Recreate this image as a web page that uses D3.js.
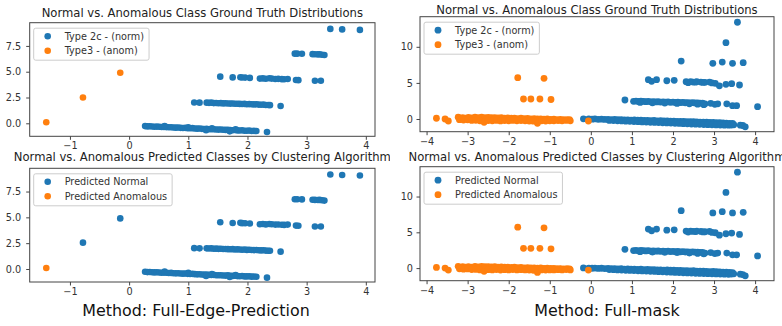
<!DOCTYPE html>
<html>
<head>
<meta charset="utf-8">
<script src="https://cdn.jsdelivr.net/npm/d3@7"></script>
<style>
body { margin: 0; background: #fff; }
text { font-family: "DejaVu Sans", sans-serif; }
</style>
</head>
<body>
<svg id="chart" width="782" height="326"></svg>
<script>
// ---- Method: Full-Edge-Prediction ----
const edgeNormal = [
  // lowest band
  [0.27,-0.27],[0.31,-0.30],[0.35,-0.29],[0.39,-0.31],[0.43,-0.33],[0.47,-0.32],[0.51,-0.34],[0.55,-0.36],
  [0.59,-0.35],[0.63,-0.37],[0.67,-0.39],[0.71,-0.38],[0.75,-0.41],[0.79,-0.42],[0.83,-0.41],[0.87,-0.44],
  [0.91,-0.45],[0.95,-0.44],[0.99,-0.47],[1.03,-0.48],[1.07,-0.47],[1.11,-0.50],[1.15,-0.52],[1.19,-0.51],
  [1.23,-0.54],[1.27,-0.55],[1.31,-0.53],[1.35,-0.57],[1.39,-0.58],[1.43,-0.57],[1.47,-0.60],[1.51,-0.61],
  [1.55,-0.60],[1.59,-0.63],[1.63,-0.64],[1.67,-0.62],[1.71,-0.66],[1.75,-0.67],[1.79,-0.65],[1.83,-0.69],
  [1.87,-0.70],[1.91,-0.68],[1.95,-0.72],[1.99,-0.72],[2.03,-0.70],[2.07,-0.74],[2.11,-0.73],[2.15,-0.75],
  [0.60,-0.26],[1.00,-0.38],[1.40,-0.48],[1.80,-0.58],[1.30,-0.68],[1.70,-0.78],[2.33,-0.84],
  // band near 2
  [1.10,2.02],[1.19,2.00],[1.31,2.00],[1.35,1.98],[1.39,2.00],[1.43,1.96],[1.47,1.97],[1.51,1.95],
  [1.55,1.96],[1.59,1.93],[1.63,1.94],[1.67,1.92],[1.71,1.91],[1.75,1.92],[1.79,1.89],[1.83,1.90],
  [1.87,1.88],[1.91,1.87],[1.95,1.88],[1.99,1.85],[2.03,1.86],[2.07,1.84],[2.11,1.83],[2.15,1.84],
  [2.19,1.81],[2.23,1.80],[2.27,1.81],[2.31,1.78],[2.35,1.77],[2.38,1.76],[2.56,1.68],
  // band near 4.4
  [1.54,4.52],[1.75,4.45],[1.88,4.47],[1.91,4.44],[1.96,4.43],[2.04,4.40],[2.21,4.33],[2.26,4.35],
  [2.31,4.32],[2.37,4.36],[2.41,4.33],[2.47,4.30],[2.52,4.31],[2.58,4.28],[2.62,4.27],[2.68,4.30],
  [2.82,4.20],[2.86,4.18],[3.14,4.12],[3.24,4.12],
  // band near 6.7
  [2.80,6.75],[2.84,6.75],[2.92,6.74],[3.10,6.70],[3.14,6.69],[3.19,6.68],[3.22,6.69],[3.26,6.65],[3.30,6.62],
  // top
  [3.40,9.15],[3.60,9.10],[3.90,9.05]
];
const edgeAnomTruth = [[-1.40,0.10],[-0.78,2.50],[-0.15,4.90]];
const edgeAnomPred = [[-1.40,0.10]];
const edgeNormalPred = edgeNormal.concat([[-0.78,2.55],[-0.15,4.90]]);

// ---- Method: Full-mask ----
const maskNormal = [
  // lowest band, upper row
  [-0.18,0.02],[-0.05,0.00],[0.03,-0.02],[0.10,0.01],[0.18,-0.04],[0.26,-0.02],[0.34,-0.06],[0.42,-0.05],
  [0.50,-0.08],[0.58,-0.07],[0.66,-0.10],[0.74,-0.09],[0.82,-0.13],[0.90,-0.12],[0.98,-0.15],[1.06,-0.14],
  [1.14,-0.17],[1.22,-0.16],[1.30,-0.20],[1.38,-0.19],[1.46,-0.22],[1.54,-0.21],[1.62,-0.25],[1.70,-0.24],
  [1.78,-0.27],[1.86,-0.26],[1.94,-0.30],[2.02,-0.29],[2.10,-0.33],[2.18,-0.32],[2.26,-0.35],[2.34,-0.36],
  [2.42,-0.38],[2.50,-0.37],[2.58,-0.41],[2.66,-0.42],[2.74,-0.44],[2.82,-0.45],[2.90,-0.48],[2.98,-0.47],
  [3.06,-0.50],[3.14,-0.52],[3.22,-0.55],[3.30,-0.56],[3.38,-0.60],[3.45,-0.62],
  // lowest band, lower row
  [0.45,-0.20],[0.55,-0.22],[0.65,-0.25],[0.75,-0.27],[0.85,-0.30],[0.95,-0.32],[1.05,-0.35],[1.15,-0.37],
  [1.25,-0.40],[1.35,-0.42],[1.45,-0.45],[1.55,-0.47],[1.65,-0.50],[1.75,-0.52],[1.85,-0.55],[1.95,-0.57],
  [2.05,-0.60],[2.15,-0.62],[2.25,-0.65],[2.35,-0.67],[2.45,-0.70],[2.55,-0.72],[2.65,-0.74],[2.75,-0.76],
  [2.85,-0.78],[2.95,-0.80],[3.05,-0.82],[3.15,-0.83],[3.25,-0.85],[3.35,-0.86],[3.42,-0.84],[3.48,-0.80],
  [3.64,-0.85],[3.70,-0.90],[3.76,-1.08],
  // band near 2.3
  [0.83,2.63],[1.04,2.45],[1.10,2.48],[1.16,2.42],[1.22,2.46],[1.28,2.44],[1.34,2.40],[1.40,2.43],
  [1.46,2.38],[1.52,2.41],[1.58,2.37],[1.64,2.39],[1.70,2.35],[1.76,2.38],[1.82,2.34],[1.88,2.36],
  [1.94,2.31],[2.00,2.34],[2.06,2.30],[2.12,2.32],[2.18,2.27],[2.24,2.30],[2.30,2.25],[2.36,2.28],
  [2.42,2.24],[2.48,2.26],[2.54,2.22],[2.60,2.24],[2.66,2.20],[2.72,2.18],[2.78,2.10],
  [1.20,2.30],[1.50,2.25],[1.80,2.20],[2.10,2.15],[2.40,2.10],[2.60,2.05],[2.75,1.98],
  [2.92,2.17],[3.02,2.03],[3.09,2.10],[3.31,2.10],[3.45,1.85],[3.55,1.85],[4.06,1.70],
  // band near 5.2
  [1.40,5.45],[1.48,5.22],[1.60,5.45],[1.85,5.30],[2.03,5.35],[2.32,5.17],[2.37,5.03],[2.43,5.17],
  [2.49,5.12],[2.55,5.10],[2.58,5.17],[2.68,5.12],[2.73,5.06],[2.78,5.08],[2.89,5.12],[2.95,4.99],
  [3.03,4.94],[3.13,4.60],[3.29,4.80],[3.43,4.89],[3.62,4.71],
  // upper outliers
  [2.20,8.03],[2.97,7.71],[3.20,7.89],[3.45,7.71],[3.71,7.80],[3.29,10.57],[3.57,13.40]
];
const maskAnom = [
  [-3.76,0.10],[-3.55,0.00],[-3.47,-0.28],
  // band, upper row
  [-3.23,0.25],[-3.18,0.10],[-3.12,0.20],[-3.05,0.12],[-2.98,0.22],[-2.90,0.15],[-2.82,0.24],[-2.74,0.18],
  [-2.66,0.25],[-2.58,0.20],[-2.50,0.22],[-2.42,0.17],[-2.34,0.20],[-2.26,0.14],[-2.18,0.18],[-2.10,0.12],
  [-2.02,0.15],[-1.94,0.10],[-1.86,0.12],[-1.78,0.06],[-1.70,0.10],[-1.62,0.04],[-1.54,0.07],[-1.46,0.02],
  [-1.38,0.04],[-1.30,0.00],[-1.22,0.02],[-1.14,-0.03],[-1.06,0.00],[-0.98,-0.05],[-0.90,-0.03],[-0.82,-0.08],
  [-0.74,-0.06],[-0.66,-0.10],[-0.58,-0.08],[-0.52,-0.10],
  // band, middle
  [-3.15,0.00],[-2.95,0.02],[-2.75,0.00],[-2.55,-0.05],[-2.35,0.00],[-2.15,-0.03],[-1.95,-0.05],
  [-1.75,-0.08],[-1.55,-0.10],[-1.35,-0.12],[-1.15,-0.12],[-0.95,-0.15],[-0.75,-0.15],
  // band, lower row
  [-3.20,-0.10],[-3.10,-0.15],[-3.00,-0.12],[-2.90,-0.20],[-2.80,-0.18],[-2.70,-0.25],[-2.60,-0.45],
  [-2.50,-0.22],[-2.40,-0.25],[-2.30,-0.20],[-2.20,-0.27],[-2.10,-0.22],[-2.00,-0.25],[-1.90,-0.20],
  [-1.80,-0.26],[-1.70,-0.22],[-1.60,-0.25],[-1.50,-0.28],[-1.40,-0.30],[-1.30,-0.60],[-1.20,-0.25],
  [-1.10,-0.28],[-1.00,-0.25],[-0.90,-0.25],[-0.80,-0.22],[-0.70,-0.25],[-0.60,-0.20],[-0.50,-0.25],
  // raised points
  [-1.78,5.72],[-1.14,5.63],[-1.64,2.77],[-1.46,2.77],[-1.24,2.77],[-0.97,2.70],
  [-0.06,-0.28]
];

const titleTruth = 'Normal vs. Anomalous Class Ground Truth Distributions';
const titlePred = 'Normal vs. Anomalous Predicted Classes by Clustering Algorithm';
const legendTruth = ['Type 2c - (norm)', 'Type3 - (anom)'];
const legendPred = ['Predicted Normal', 'Predicted Anomalous'];
const edgeXTicks = [-1, 0, 1, 2, 3, 4];
const edgeYTicks = [0, 2.5, 5, 7.5];
const maskXTicks = [-4, -3, -2, -1, 0, 1, 2, 3, 4];
const maskYTicks = [0, 5, 10];

const blue = '#1f77b4', orange = '#ff7f0e';
const svg = d3.select('#chart');

svg.append('defs').call(d => {
    d.append('clipPath').attr('id', 'clipL').append('rect').attr('x', 0).attr('y', 0).attr('width', 390).attr('height', 326);
    d.append('clipPath').attr('id', 'clipR').append('rect').attr('x', 390).attr('y', 0).attr('width', 392).attr('height', 326);
});

const fmtTick = f => (v => f(v).replace('-', '\u2212'));

function scatter(g, cfg) {
    const x = d3.scaleLinear().domain(cfg.xDomain).range([cfg.left, cfg.right]);
    const y = d3.scaleLinear().domain(cfg.yDomain).range([cfg.bottom, cfg.top]);

    g.append('text')
        .attr('x', (cfg.left + cfg.right) / 2)
        .attr('y', cfg.titleY)
        .attr('text-anchor', 'middle')
        .attr('font-size', 11.6)
        .attr('fill', '#222')
        .text(cfg.title);

    // the points, normal first then anomalous on top
    g.append('g').selectAll('circle').data(cfg.normal).join('circle')
        .attr('cx', d => x(d[0])).attr('cy', d => y(d[1])).attr('r', cfg.r).attr('fill', blue);
    g.append('g').selectAll('circle').data(cfg.anom).join('circle')
        .attr('cx', d => x(d[0])).attr('cy', d => y(d[1])).attr('r', cfg.r).attr('fill', orange);

    // frame
    g.append('rect')
        .attr('x', cfg.left).attr('y', cfg.top)
        .attr('width', cfg.right - cfg.left).attr('height', cfg.bottom - cfg.top)
        .attr('fill', 'none').attr('stroke', '#444').attr('stroke-width', 1);

    const xAxis = g.append('g')
        .attr('transform', 'translate(0,' + cfg.bottom + ')')
        .call(d3.axisBottom(x).tickValues(cfg.xTicks).tickSize(3.5).tickPadding(2.5).tickFormat(fmtTick(d3.format('d'))));
    const yAxis = g.append('g')
        .attr('transform', 'translate(' + cfg.left + ',0)')
        .call(d3.axisLeft(y).tickValues(cfg.yTicks).tickSize(3.5).tickPadding(cfg.yPad).tickFormat(fmtTick(d3.format(cfg.yFmt))));
    [xAxis, yAxis].forEach(a => {
        a.select('.domain').remove();
        a.selectAll('line').attr('stroke', '#444');
        a.selectAll('text').attr('font-family', '"DejaVu Sans", sans-serif').attr('font-size', 9.7).attr('fill', '#333');
    });

    // legend
    const lg = g.append('g');
    const bx = cfg.left + 4, by = cfg.top + 5.5;
    const box = lg.append('rect').attr('x', bx).attr('y', by).attr('height', 32)
        .attr('rx', 2).attr('fill', 'rgba(255,255,255,0.85)').attr('stroke', '#ccc').attr('stroke-width', 1);
    let maxLen = 0;
    cfg.legend.forEach((lab, i) => {
        const cy = by + 8 + i * 14.5;
        lg.append('circle').attr('cx', bx + 14).attr('cy', cy).attr('r', cfg.r).attr('fill', i === 0 ? blue : orange);
        const t = lg.append('text').attr('x', bx + 31).attr('y', cy + 3.5)
            .attr('font-size', 9.7).attr('fill', '#333').text(lab);
        maxLen = Math.max(maxLen, t.node().getComputedTextLength());
    });
    box.attr('width', 31 + maxLen + 5);
}

const left = svg.append('g').attr('clip-path', 'url(#clipL)');
const right = svg.append('g').attr('clip-path', 'url(#clipR)');

const edgeBase = { left: 29.7, right: 375, xDomain: [-1.68, 4.155], yDomain: [-1.26, 9.75],
    xTicks: edgeXTicks, yTicks: edgeYTicks, yFmt: '.1f', yPad: 5, r: 3.3 };
const maskBase = { left: 420, right: 774, xDomain: [-4.16, 4.46], yDomain: [-1.76, 14.17],
    xTicks: maskXTicks, yTicks: maskYTicks, yFmt: 'd', yPad: 3.5, r: 3.4 };

scatter(left.append('g'), Object.assign({}, edgeBase, { top: 22.7, bottom: 136.3, titleY: 16.5,
    title: titleTruth, legend: legendTruth, normal: edgeNormal, anom: edgeAnomTruth }));
scatter(left.append('g'), Object.assign({}, edgeBase, { top: 168.3, bottom: 282, titleY: 161,
    title: titlePred, legend: legendPred, normal: edgeNormalPred, anom: edgeAnomPred }));
scatter(right.append('g'), Object.assign({}, maskBase, { top: 16.7, bottom: 131.7, titleY: 13.5,
    title: titleTruth, legend: legendTruth, normal: maskNormal, anom: maskAnom }));
scatter(right.append('g'), Object.assign({}, maskBase, { top: 166.7, bottom: 280.7, titleY: 161,
    title: titlePred, legend: legendPred, normal: maskNormal, anom: maskAnom }));

// method captions
svg.append('text').attr('x', 196).attr('y', 316).attr('text-anchor', 'middle')
    .attr('font-family', '"Liberation Sans", Arial, sans-serif').attr('font-size', 15.9).attr('fill', '#111')
    .text('Method: Full-Edge-Prediction');
svg.append('text').attr('x', 607).attr('y', 316).attr('text-anchor', 'middle')
    .attr('font-family', '"Liberation Sans", Arial, sans-serif').attr('font-size', 15.9).attr('fill', '#111')
    .text('Method: Full-mask');
</script>
</body>
</html>
